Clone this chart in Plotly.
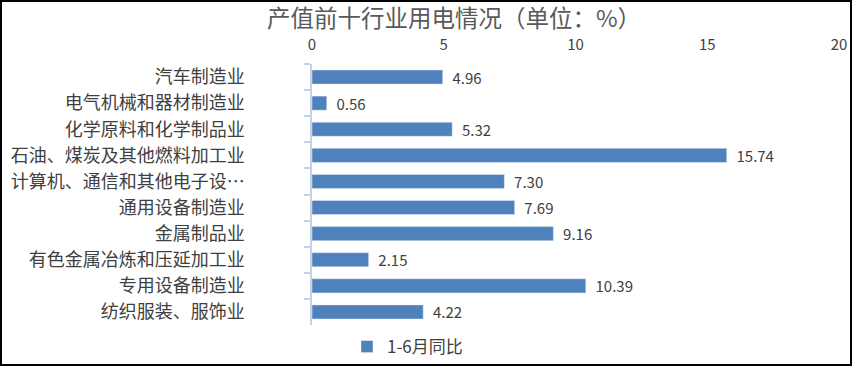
import plotly.graph_objects as go

categories = ["汽车制造业", "电气机械和器材制造业", "化学原料和化学制品业",
              "石油、煤炭及其他燃料加工业", "计算机、通信和其他电子设…",
              "通用设备制造业", "金属制品业", "有色金属冶炼和压延加工业",
              "专用设备制造业", "纺织服装、服饰业"]
values = [4.96, 0.56, 5.32, 15.74, 7.30, 7.69, 9.16, 2.15, 10.39, 4.22]
x_ticks = [0, 5, 10, 15, 20]
series_name = "1-6月同比"
title_text = "产值前十行业用电情况（单位：%）"

W, H = 852, 366
ML, MR, MT, MB = 312, 13, 64, 41
PW, PH = W - ML - MR, H - MT - MB

def px_x(p):
    return (p - ML) / PW

def px_y(p):
    return (H - MB - p) / PH

FONT = "Noto Sans CJK SC"
TXT = "#404040"

fig = go.Figure(go.Bar(
    y=categories, x=values, orientation="h", name=series_name,
    marker=dict(color="#4F81BD"),
    text=["  " + f"{v:.2f}" for v in values], textposition="outside",
    constraintext="none",
    textfont=dict(family=FONT, size=15, color=TXT),
    cliponaxis=False, showlegend=True,
))

fig.update_layout(
    width=W, height=H,
    margin=dict(l=ML, r=MR, t=MT, b=MB, autoexpand=False),
    paper_bgcolor="white", plot_bgcolor="white",
    font=dict(family=FONT, color=TXT),
    bargap=0.46,
    title=dict(text=title_text, x=454 / W, xanchor="center", xref="container",
               y=1 - 19 / H, yanchor="middle", yref="container",
               font=dict(family=FONT, size=23.5, color="#595959")),
    xaxis=dict(side="top", range=[0, 20], tickvals=x_ticks, showgrid=False,
               zeroline=False, showline=False, ticks="", automargin=False,
               tickfont=dict(family=FONT, size=15, color=TXT),
               ticklabelstandoff=10),
    yaxis=dict(autorange="reversed", showline=True, linecolor="#C5D3E8", linewidth=1.5,
               ticks="outside", tickson="boundaries", ticklen=6, tickcolor="#C5D3E8",
               tickwidth=1.5, showgrid=False, zeroline=False, automargin=False,
               tickfont=dict(family=FONT, size=18, color=TXT), ticklabelstandoff=62),
    legend=dict(orientation="h", x=px_x(347), xanchor="left", y=px_y(347), yanchor="middle",
                font=dict(family=FONT, size=17, color=TXT), bgcolor="rgba(0,0,0,0)"),
    shapes=[dict(type="rect", xref="paper", yref="paper",
                 x0=px_x(1), x1=px_x(851), y0=px_y(365), y1=px_y(1),
                 line=dict(color="black", width=2), fillcolor="rgba(0,0,0,0)", layer="above")],
)

fig.write_html("out.html", config={"displayModeBar": False},
               post_script="document.body.style.margin='0';document.body.style.overflow='hidden';")
